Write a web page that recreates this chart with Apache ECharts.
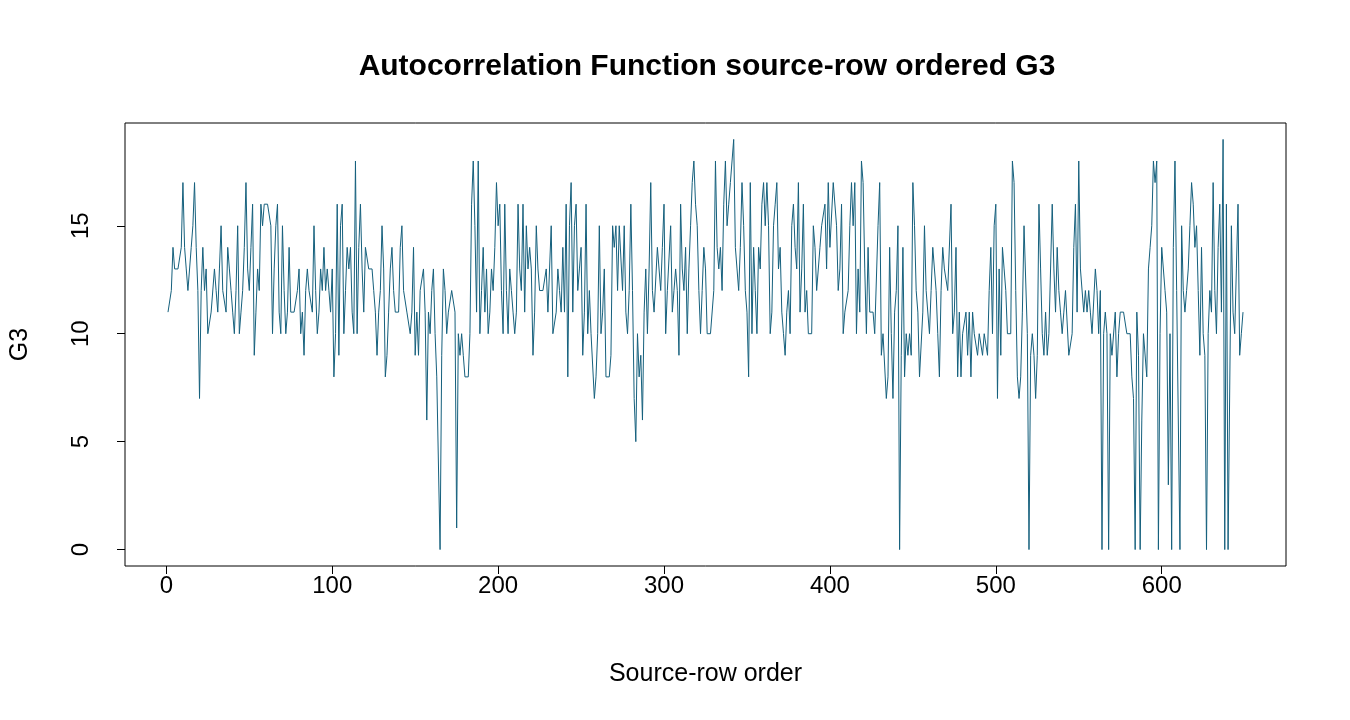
<!DOCTYPE html>
<html>
<head>
<meta charset="utf-8">
<title>Autocorrelation Function source-row ordered G3</title>
<script src="https://cdn.jsdelivr.net/npm/echarts@6/dist/echarts.min.js"></script>
<style>
  html, body { margin: 0; padding: 0; background: #ffffff; }
  #chart { width: 1350px; height: 720px; }
</style>
</head>
<body>
<div id="chart"></div>
<script>
// G3 values in source-row order (rows 1..649)
var g3_part1 = [
    11,11,12,14,13,13,13,13,14,17,14,13,12,12,14,15,17,14,12,7,12,14,12,13,10,10,11,11,13,12,11,13,15,12,12,11,14,13,12,11,10,12,15,10,11,12,14,17,13,12,14,16,9,11,
    13,12,16,15,16,16,16,16,15,10,13,15,16,11,10,15,12,10,11,14,11,11,11,11,12,13,10,11,9,12,13,12,12,11,15,12,10,11,13,12,14,12,13,12,11,13,8,10,16,9,15,16,10,12,14,13,
    14,11,10,18,10,14,16,13,11,14,14,13,13,13,12,11,9,11,12,15,13,8,9,11,13,14,12,11,11,11,14,15,12,12,11,11,10,11,14,9,11,9,12,12,13,11,6,11,10,12,13,10,8,8,0,9,13
];
var g3_part2 = [
    12,10,11,11,12,12,11,1,10,9,10,9,8,8,8,10,16,18,15,11,18,10,12,14,11,13,10,11,13,12,14,17,15,16,12,10,16,12,10,13,12,11,10,11,16,13,12,16,11,15,13,14,13,9,11,15,13,
    12,12,12,12,13,11,11,15,10,10,11,13,12,11,14,11,16,8,15,17,11,15,16,12,13,14,9,11,16,10,12,10,10,7,8,10,15,10,11,13,8,8,8,9,15,14,15,12,15,15,12,15,11,10,12,16,12,7,
    5,10,8,9,6,11,13,10,13,17,12,11,11,14,14,12,14,16,10,12,12,15,11,12,13,12,9,16,13,12,14,10,13,15,17,18,16,15,12,10,12,14,13,10,10,10,10,12,18,14,13,14,12,16,18,15,16
];
var g3_part3 = [
    17,18,19,14,13,12,14,17,15,12,11,8,17,10,14,12,10,14,13,16,17,15,17,15,10,11,15,16,17,13,14,11,10,9,11,12,10,15,16,14,13,17,11,13,16,11,12,10,10,10,15,14,12,12,14,15,
    15,16,13,17,14,14,17,17,15,12,13,16,10,11,11,12,15,17,15,17,10,13,11,18,17,13,10,14,11,11,11,10,10,15,17,9,10,10,7,8,14,10,7,11,12,15,0,9,14,8,10,9,10,9,17,
    15,12,11,8,8,11,15,12,12,10,12,14,14,12,10,8,12,14,13,13,12,12,16,10,11,14,8,11,8,10,10,11,9,11,8,11,10,10,9,10,10,9,10,10,9,12,14,10,15,16,7,13,9,14,13
];
var g3_part4 = [
    12,10,10,10,18,17,12,8,7,8,11,15,15,10,0,9,10,9,7,9,16,13,10,9,11,9,10,10,16,13,11,14,12,11,10,11,12,12,9,9,10,14,16,11,18,13,13,11,12,11,12,11,10,10,13,12,10,
    12,0,10,11,10,0,10,9,9,11,8,10,11,11,11,11,10,10,10,8,7,0,11,9,0,6,10,10,8,13,14,15,18,17,18,0,10,14,14,12,11,3,10,0,14,18,12,12,0,15,12,11,12,13,15,17,16,
    14,15,12,9,14,10,9,0,10,12,11,17,12,10,14,16,11,19,0,16,0,0,15,11,10,13,16,9,10,11
];
var x_ticks = [0, 100, 200, 300, 400, 500, 600];
var y_ticks = [0, 5, 10, 15];

function myAcfLine(divID) {
    var g3 = g3_part1.concat(g3_part2, g3_part3, g3_part4);
    var pts = [];
    for (var i = 0; i < g3.length; i++) {
        pts.push([i + 1, g3[i]]);
    }
    var n = g3.length;
    // R style 4% padding around the data range
    var xpad = (n - 1) * 0.04;
    var ypad = 19 * 0.04;

    var nameTxt = {
        fontFamily: 'Liberation Sans',
        color: '#000000',
        fontSize: 25
    };

    var myChart = echarts.init(document.getElementById(divID), null, {renderer: 'canvas'});
    var option = {
        animation: false,
        backgroundColor: '#ffffff',
        title: {
            text: 'Autocorrelation Function source-row ordered G3',
            left: 702,
            textAlign: 'center',
            top: 47,
            textStyle: {
                fontFamily: 'Liberation Sans',
                fontWeight: 'bold',
                fontSize: 30,
                color: '#000000'
            }
        },
        grid: {
            left: 123,
            right: 64,
            top: 123,
            bottom: 154,
            show: true,
            borderColor: '#000000',
            borderWidth: 1,
            backgroundColor: 'transparent'
        },
        xAxis: {
            type: 'value',
            min: 1 - xpad,
            max: n + xpad,
            name: 'Source-row order',
            nameLocation: 'middle',
            nameGap: 96,
            nameTextStyle: nameTxt,
            axisLine: { show: false, onZero: false },
            splitLine: { show: false },
            axisTick: {
                show: true,
                length: 8,
                customValues: x_ticks,
                lineStyle: { color: '#000000', width: 1 }
            },
            axisLabel: {
                customValues: x_ticks,
                margin: 8,
                fontFamily: 'Liberation Sans',
                fontSize: 24,
                color: '#000000'
            }
        },
        yAxis: {
            type: 'value',
            min: -ypad,
            max: 19 + ypad,
            name: 'G3',
            nameLocation: 'middle',
            nameRotate: 90,
            nameGap: 92,
            nameTextStyle: nameTxt,
            axisLine: { show: false, onZero: false },
            splitLine: { show: false },
            axisTick: {
                show: true,
                length: 8,
                customValues: y_ticks,
                lineStyle: { color: '#000000', width: 1 }
            },
            axisLabel: {
                customValues: y_ticks,
                rotate: 90,
                margin: 32,
                fontFamily: 'Liberation Sans',
                fontSize: 24,
                color: '#000000'
            }
        },
        series: [{
            type: 'line',
            data: pts,
            showSymbol: false,
            symbol: 'none',
            lineStyle: { color: '#15607d', width: 1 }
        }]
    };
    myChart.setOption(option);
}

myAcfLine('chart');
</script>
</body>
</html>
